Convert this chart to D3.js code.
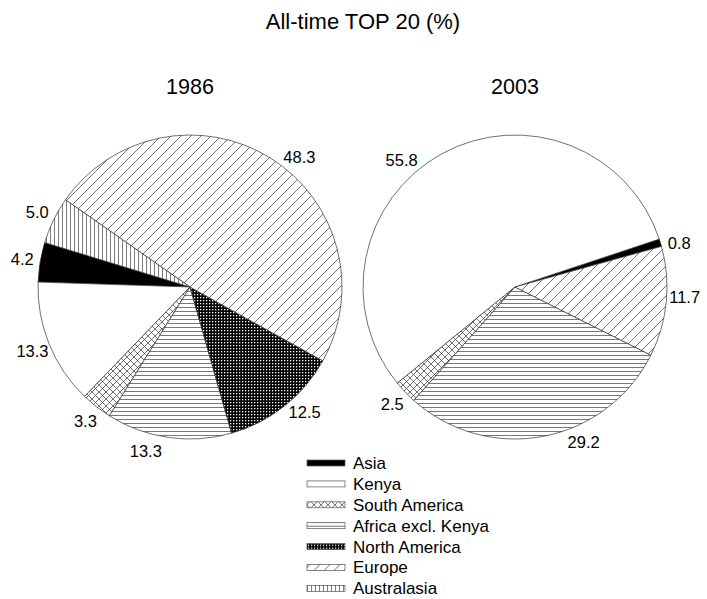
<!DOCTYPE HTML>
<head>
    <script src="https://cdn.jsdelivr.net/npm/d3@7"></script>
</head>

<body style="margin:0; background:#fff;">

    <div id="svgDiv">
        <svg width="707" height="599">
        </svg>
    </div>

</body>

<style>
    text {
        font-family: "Liberation Sans", Arial, sans-serif;
        fill: #000;
    }
</style>

<script>
    // data
    var regions = ["Asia", "Kenya", "South America", "Africa excl. Kenya", "North America", "Europe", "Australasia"];
    var share1986 = [4.2, 13.3, 3.3, 13.3, 12.5, 48.3, 5.0];
    var share2003 = [0.8, 55.8, 2.5, 29.2, 0, 11.7, 0];
    var years = ["1986", "2003"];
    var title = "All-time TOP 20 (%)";

    // layout
    var w = 707;
    var h = 599;
    var r = 152;
    var cy = 287;
    var centers = [190, 515];
    // angle (deg, clockwise from 12 o'clock) where the first slice starts; slices run anticlockwise
    var startDeg = [-73, 74.5];
    // small moves of the value labels (deg, clockwise)
    var labelNudge = [
        {"Europe": 8, "Africa excl. Kenya": 7, "North America": -4},
        {"Kenya": -13, "Africa excl. Kenya": -13, "Asia": 2, "Europe": -2}
    ];

    var fills = {
        "Asia": "#000",
        "Kenya": "#fff",
        "South America": "url(#pSA)",
        "Africa excl. Kenya": "url(#pAF)",
        "North America": "url(#pNA)",
        "Europe": "url(#pEU)",
        "Australasia": "url(#pAU)"
    };

    var vis = d3.select("svg");
    var defs = vis.append("defs");

    // hatch patterns
    function hatch(id, size, paths, bg, col, sw) {
        var p = defs.append("pattern")
            .attr("id", id)
            .attr("patternUnits", "userSpaceOnUse")
            .attr("width", size)
            .attr("height", size);
        p.append("rect").attr("width", size).attr("height", size).attr("fill", bg);
        p.append("path").attr("d", paths).attr("stroke", col).attr("stroke-width", sw).attr("fill", "none");
        return p;
    }
    hatch("pEU", 10, "M0,10 L10,0 M-2,2 L2,-2 M8,12 L12,8", "#fff", "#333", 0.7);
    hatch("pAU", 4, "M0.5,0 L0.5,4", "#fff", "#444", 0.7);
    hatch("pAF", 4, "M0,0.5 L4,0.5", "#fff", "#555", 0.8);
    hatch("pSA", 7, "M0,7 L7,0 M-1,1 L1,-1 M6,8 L8,6 M0,0 L7,7 M-1,6 L1,8 M6,-1 L8,1", "#fff", "#333", 0.7);
    var na = defs.append("pattern")
        .attr("id", "pNA")
        .attr("patternUnits", "userSpaceOnUse")
        .attr("width", 3)
        .attr("height", 3);
    na.append("rect").attr("width", 3).attr("height", 3).attr("fill", "#000");
    na.append("rect").attr("x", 1).attr("y", 1).attr("width", 1.3).attr("height", 1.3).attr("fill", "#fff");

    // title
    vis.append("text")
        .attr("x", 363)
        .attr("y", 29)
        .attr("text-anchor", "middle")
        .style("font-size", "22px")
        .text(title);

    var arc = d3.arc().innerRadius(0).outerRadius(r);
    var rad = Math.PI / 180;

    [share1986, share2003].forEach(function(vals, k) {
        var rows = regions.map(function(name, i) {
            return {"name": name, "value": vals[i]};
        });
        var a0 = startDeg[k] * rad;
        var pie = d3.pie()
            .sort(null)
            .value(function(d) { return d.value; })
            .startAngle(a0)
            .endAngle(a0 - 2 * Math.PI);
        var slices = pie(rows).filter(function(d) { return d.data.value > 0; });

        var g = vis.append("g").attr("transform", "translate(" + centers[k] + "," + cy + ")");

        g.selectAll("path")
            .data(slices)
            .enter()
            .append("path")
            .attr("d", arc)
            .attr("fill", function(d) { return fills[d.data.name]; })
            .attr("stroke", "#333")
            .attr("stroke-width", 0.7)
            .attr("stroke-linejoin", "round");

        // value labels
        g.selectAll("text.val")
            .data(slices)
            .enter()
            .append("text")
            .attr("class", "val")
            .attr("text-anchor", "middle")
            .attr("dy", "0.35em")
            .style("font-size", "16.5px")
            .attr("transform", function(d) {
                var a = (d.startAngle + d.endAngle) / 2 + (labelNudge[k][d.data.name] || 0) * rad;
                var lr = r + 18;
                return "translate(" + (Math.sin(a) * lr) + "," + (-Math.cos(a) * lr) + ")";
            })
            .text(function(d) { return d.data.value.toFixed(1); });

        // year
        vis.append("text")
            .attr("x", centers[k])
            .attr("y", 94)
            .attr("text-anchor", "middle")
            .style("font-size", "21.5px")
            .text(years[k]);
    });

    // legend
    var leg = vis.selectAll("g.leg")
        .data(regions)
        .enter()
        .append("g")
        .attr("class", "leg")
        .attr("transform", function(d, i) { return "translate(307," + (463 + i * 20.9) + ")"; });

    leg.append("rect")
        .attr("x", 0)
        .attr("y", -3)
        .attr("width", 38)
        .attr("height", 6)
        .attr("fill", function(d) { return fills[d]; })
        .attr("stroke", "#555")
        .attr("stroke-width", 0.7);

    leg.append("text")
        .attr("x", 46)
        .attr("dy", "0.35em")
        .style("font-size", "17px")
        .text(function(d) { return d; });
</script>
